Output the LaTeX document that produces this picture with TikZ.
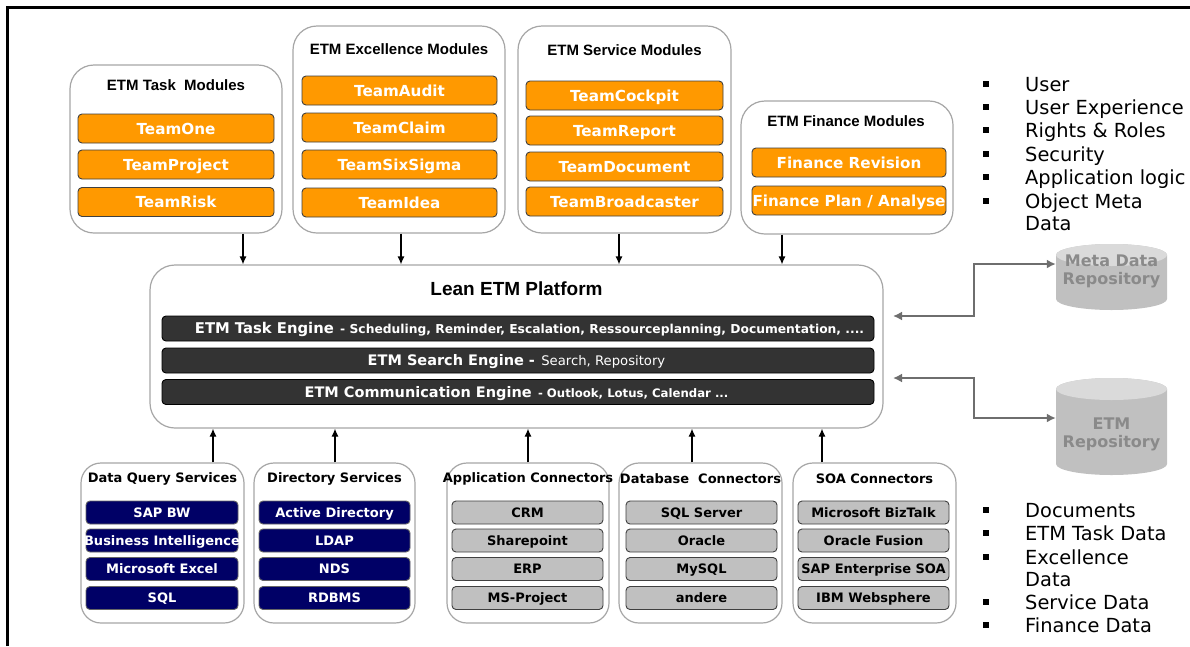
\documentclass[tikz,border=0pt]{standalone}
\usepackage{fontspec}
\setmainfont{DejaVu Sans}
\newfontfamily\arialf{Liberation Sans}
\usetikzlibrary{arrows.meta}
\definecolor{orangeF}{HTML}{FF9900}
\definecolor{navyF}{HTML}{000066}
\definecolor{grayF}{HTML}{C0C0C0}
\definecolor{engF}{HTML}{333333}
\definecolor{frameG}{HTML}{A6A6A6}
\definecolor{connG}{HTML}{6E6E6E}
\definecolor{cylBody}{HTML}{C0C0C0}
\definecolor{cylTop}{HTML}{DADADA}
\definecolor{cylText}{HTML}{8A8A8A}
\newcommand\fs[1]{\fontsize{#1}{#1}\selectfont}
\newcommand\ctr[1]{\makebox[0pt]{#1}}
\tikzset{
 modbox/.style={draw=frameG, line width=1.2pt, rounded corners=24pt, fill=white, inner sep=0pt},
 subbox/.style={modbox, rounded corners=20pt},
 modtitle/.style={font=\arialf\bfseries\fs{15}, inner sep=0pt},
 subtitle/.style={font=\bfseries\fs{13}, inner sep=0pt},
 itembase/.style={rounded corners=4pt, line width=0.9pt, inner sep=0pt, text depth=0pt},
 oitem/.style={itembase, draw=black!75, fill=orangeF, text=white, font=\bfseries\fs{15.2}, text height=11pt},
 nitem/.style={itembase, draw=black!60, fill=navyF, text=white, font=\bfseries\fs{13}, text height=9.5pt},
 gitem/.style={itembase, draw=black!75, fill=grayF, text=black, font=\bfseries\fs{13}, text height=9.5pt},
 engine/.style={itembase, draw=black, fill=engF},
 engtext/.style={text=white, inner sep=0pt, text height=10.5pt, text depth=0pt},
 arr/.style={line width=1.2pt, -{Latex[length=8pt,width=7pt]}},
 conn/.style={draw=connG, line width=2.6pt, {Latex[length=9pt,width=9pt]}-{Latex[length=9pt,width=9pt]}},
 bul/.style={font=\fs{19.4}, anchor=base west, inner sep=0pt},
 cyltext/.style={font=\bfseries\fs{16}, text=cylText, align=center, inner sep=0pt},
}
\begin{document}
\begin{tikzpicture}[x=1pt,y=1pt]
\useasboundingbox (0,0) rectangle (1190,-646);
\fill[white] (0,0) rectangle (1190,-646);
\draw[line width=3pt] (7.5,-646) -- (7.5,-7) -- (1190,-7);

% ---------- top modules
\node[modbox, minimum width=212pt, minimum height=168pt] (taskmod) at (176,-149) {};
\node[modtitle] (tasktitle) at (176,-85) {ETM Task\ \ Modules};
\node[oitem, minimum width=196pt, minimum height=29pt] (teamone) at (176,-128.5) {\ctr{TeamOne}};
\node[oitem, minimum width=196pt, minimum height=29pt] (teamproject) at (176,-164.5) {\ctr{TeamProject}};
\node[oitem, minimum width=196pt, minimum height=29pt] (teamrisk) at (176,-202) {\ctr{TeamRisk}};

\node[modbox, minimum width=212pt, minimum height=207pt] (excmod) at (399,-129.5) {};
\node[modtitle] (exctitle) at (399,-49) {ETM Excellence Modules};
\node[oitem, minimum width=195pt, minimum height=29pt] (teamaudit) at (399.5,-90.5) {\ctr{TeamAudit}};
\node[oitem, minimum width=195pt, minimum height=29pt] (teamclaim) at (399.5,-127.5) {\ctr{TeamClaim}};
\node[oitem, minimum width=195pt, minimum height=29pt] (teamsix) at (399.5,-164.5) {\ctr{TeamSixSigma}};
\node[oitem, minimum width=195pt, minimum height=29pt] (teamidea) at (399.5,-202.5) {\ctr{TeamIdea}};

\node[modbox, minimum width=213pt, minimum height=207pt] (srvmod) at (624.5,-129.5) {};
\node[modtitle] (srvtitle) at (624.5,-50) {ETM Service Modules};
\node[oitem, minimum width=197pt, minimum height=29pt] (teamcockpit) at (624.5,-95.5) {\ctr{TeamCockpit}};
\node[oitem, minimum width=197pt, minimum height=29pt] (teamreport) at (624.5,-130.5) {\ctr{TeamReport}};
\node[oitem, minimum width=197pt, minimum height=29pt] (teamdoc) at (624.5,-166.5) {\ctr{TeamDocument}};
\node[oitem, minimum width=197pt, minimum height=29pt] (teambroad) at (624.5,-201.5) {\ctr{TeamBroadcaster}};

\node[modbox, minimum width=212pt, minimum height=133pt] (finmod) at (847,-167.5) {};
\node[modtitle] (fintitle) at (846,-121) {ETM Finance Modules};
\node[oitem, minimum width=194pt, minimum height=29pt] (finrev) at (849,-162.5) {\ctr{Finance Revision}};
\node[oitem, minimum width=194pt, minimum height=29pt] (finplan) at (849,-200.5) {\ctr{Finance Plan / Analyse}};

% ---------- platform
\node[modbox, rounded corners=25pt, minimum width=733pt, minimum height=163pt] (platform) at (516.5,-346.5) {};
\node[font=\arialf\bfseries\fs{19}, inner sep=0pt] (ptitle) at (516.5,-289) {Lean ETM Platform};
\node[engine, minimum width=712pt, minimum height=25pt] (eng1) at (518,-328.5) {};
\node[engine, minimum width=712pt, minimum height=25pt] (eng2) at (518,-360.5) {};
\node[engine, minimum width=712pt, minimum height=25pt] (eng3) at (518,-392) {};
\node[engtext] (eng1t) at ([xshift=11.5pt]eng1.center) {{\bfseries\fs{14.8}ETM Task Engine}\ \ {\bfseries\fs{12.3}- Scheduling, Reminder, Escalation, Ressourceplanning, Documentation, ....}};
\node[engtext] (eng2t) at ([xshift=-1.5pt]eng2.center) {{\bfseries\fs{14.5}ETM Search Engine -}\ \ {\fs{13.2}Search, Repository}};
\node[engtext] (eng3t) at ([xshift=-1.5pt]eng3.center) {{\bfseries\fs{14.5}ETM Communication Engine}\ \ {\bfseries\fs{11.7}- Outlook, Lotus, Calendar ...}};

% ---------- bottom boxes
\node[subbox, minimum width=163pt, minimum height=160pt] (dq) at (162.5,-543) {};
\node[subtitle] (dqtitle) at (162.5,-479) {Data Query Services};
\node[nitem, minimum width=152pt, minimum height=23pt] (sapbw) at (162,-512.5) {\ctr{SAP BW}};
\node[nitem, minimum width=152pt, minimum height=23pt] (bi) at (162,-540.5) {\ctr{Business Intelligence}};
\node[nitem, minimum width=152pt, minimum height=23pt] (excel) at (162,-569) {\ctr{Microsoft Excel}};
\node[nitem, minimum width=152pt, minimum height=23pt] (sql) at (162,-598) {\ctr{SQL}};

\node[subbox, minimum width=161pt, minimum height=160pt] (dir) at (334.5,-543) {};
\node[subtitle] (dirtitle) at (334.5,-479) {Directory Services};
\node[nitem, minimum width=151pt, minimum height=23pt] (ad) at (334.5,-512.5) {\ctr{Active Directory}};
\node[nitem, minimum width=151pt, minimum height=23pt] (ldap) at (334.5,-540.5) {\ctr{LDAP}};
\node[nitem, minimum width=151pt, minimum height=23pt] (nds) at (334.5,-569) {\ctr{NDS}};
\node[nitem, minimum width=151pt, minimum height=23pt] (rdbms) at (334.5,-598) {\ctr{RDBMS}};

\node[subbox, minimum width=162pt, minimum height=160pt] (app) at (528,-543) {};
\node[subtitle] (apptitle) at (528,-479) {Application Connectors};
\node[gitem, minimum width=151pt, minimum height=23pt] (crm) at (527.5,-512.5) {\ctr{CRM}};
\node[gitem, minimum width=151pt, minimum height=23pt] (sharepoint) at (527.5,-540.5) {\ctr{Sharepoint}};
\node[gitem, minimum width=151pt, minimum height=23pt] (erp) at (527.5,-569) {\ctr{ERP}};
\node[gitem, minimum width=151pt, minimum height=23pt] (msproj) at (527.5,-598) {\ctr{MS-Project}};

\node[subbox, minimum width=163pt, minimum height=160pt] (db) at (700.5,-543) {};
\node[subtitle] (dbtitle) at (700.5,-479) {Database\ \ Connectors};
\node[gitem, minimum width=151pt, minimum height=23pt] (sqlserver) at (701.5,-512.5) {\ctr{SQL Server}};
\node[gitem, minimum width=151pt, minimum height=23pt] (oracle) at (701.5,-540.5) {\ctr{Oracle}};
\node[gitem, minimum width=151pt, minimum height=23pt] (mysql) at (701.5,-569) {\ctr{MySQL}};
\node[gitem, minimum width=151pt, minimum height=23pt] (andere) at (701.5,-598) {\ctr{andere}};

\node[subbox, minimum width=163pt, minimum height=160pt] (soa) at (874.5,-543) {};
\node[subtitle] (soatitle) at (874.5,-479) {SOA Connectors};
\node[gitem, minimum width=151pt, minimum height=23pt] (biztalk) at (873.5,-512.5) {\ctr{Microsoft BizTalk}};
\node[gitem, minimum width=151pt, minimum height=23pt] (fusion) at (873.5,-540.5) {\ctr{Oracle Fusion}};
\node[gitem, minimum width=151pt, minimum height=23pt] (sapsoa) at (873.5,-569) {\ctr{SAP Enterprise SOA}};
\node[gitem, minimum width=151pt, minimum height=23pt] (ibm) at (873.5,-598) {\ctr{IBM Websphere}};

% ---------- arrows
\coordinate (t1) at (243,0);
\coordinate (t2) at (401,0);
\coordinate (t3) at (619,0);
\coordinate (t4) at (782,0);
\draw[arr] (taskmod.south -| t1) -- (platform.north -| t1);
\draw[arr] (excmod.south -| t2) -- (platform.north -| t2);
\draw[arr] (srvmod.south -| t3) -- (platform.north -| t3);
\draw[arr] (finmod.south -| t4) -- (platform.north -| t4);
\coordinate (b1) at (213,0);
\coordinate (b2) at (335,0);
\coordinate (b3) at (528,0);
\coordinate (b4) at (692,0);
\coordinate (b5) at (822,0);
\draw[arr] (dq.north -| b1) -- (platform.south -| b1);
\draw[arr] (dir.north -| b2) -- (platform.south -| b2);
\draw[arr] (app.north -| b3) -- (platform.south -| b3);
\draw[arr] (db.north -| b4) -- (platform.south -| b4);
\draw[arr] (soa.north -| b5) -- (platform.south -| b5);

% ---------- cylinders
\fill[cylBody] (1056,-255) -- (1056,-299) arc[start angle=180,end angle=360,x radius=55.5,y radius=11] -- (1167,-255) arc[start angle=0,end angle=180,x radius=55.5,y radius=11] -- cycle;
\fill[cylTop] (1111.5,-255) ellipse[x radius=55.5, y radius=11];
\node[inner sep=0pt, minimum width=111pt, minimum height=66pt] (meta) at (1111.5,-277) {};
\node[cyltext] (metatext) at (1111.5,-271) {Meta Data\\[2pt]Repository};

\fill[cylBody] (1056,-389) -- (1056,-464) arc[start angle=180,end angle=360,x radius=55.5,y radius=11] -- (1167,-389) arc[start angle=0,end angle=180,x radius=55.5,y radius=11] -- cycle;
\fill[cylTop] (1111.5,-389) ellipse[x radius=55.5, y radius=11];
\node[inner sep=0pt, minimum width=111pt, minimum height=97pt] (etmrep) at (1111.5,-426.5) {};
\node[cyltext] (etmtext) at (1111.5,-434.5) {ETM\\[2pt]Repository};

\coordinate (p1) at (893,-316);
\coordinate (p2) at (893,-378);
\coordinate (j1) at (974,-264);
\coordinate (j2) at (974,-418);
\draw[conn] (p1) -| (j1) -- (meta.west |- j1);
\draw[conn] (p2) -| (j2) -- (etmrep.west |- j2);

% ---------- bullet lists
\foreach \yy in {84,107,130,154,177,201,510,533,557,602,625}
  \fill (983,-\yy-3) rectangle (988.5,-\yy+3);
\node[bul] (u1) at (1025,-91) {User};
\node[bul] (u2) at (1025,-114) {User Experience};
\node[bul] (u3) at (1025,-137) {Rights \& Roles};
\node[bul] (u4) at (1025,-161) {Security};
\node[bul] (u5) at (1025,-184) {Application logic};
\node[bul] (u6) at (1025,-208) {Object Meta};
\node[bul] (u7) at (1025,-230) {Data};
\node[bul] (d1) at (1025,-517) {Documents};
\node[bul] (d2) at (1025,-540) {ETM Task Data};
\node[bul] (d3) at (1025,-564) {Excellence};
\node[bul] (d4) at (1025,-586) {Data};
\node[bul] (d5) at (1025,-609) {Service Data};
\node[bul] (d6) at (1025,-632) {Finance Data};
\end{tikzpicture}
\end{document}
